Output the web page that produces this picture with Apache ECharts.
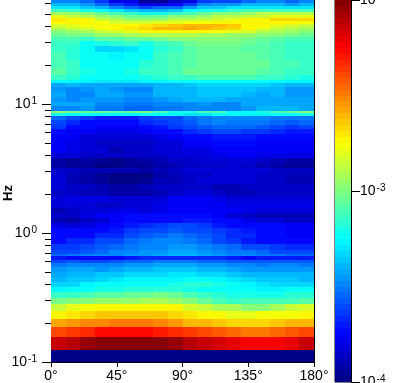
<!DOCTYPE html>
<html><head><meta charset="utf-8">
<style>html,body{margin:0;padding:0;background:#fff}#c{width:418px;height:383px}</style>
<script src="https://cdn.jsdelivr.net/npm/echarts@6/dist/echarts.min.js"></script>
</head><body><div id="c"></div>
<script>
// Row edges in Hz, from the top of the plot downward
const freqEdges = [64,60.7,57.5,54.5,51.7,49,46.4,44,41.7,39.5,37.5,35.5,33.1,30.8,28.2,25.3,21.9,19,16.8,15.3,14.5,13.5,12.4,11.3,10.4,9.65,8.83,8.51,8.07,7.52,6.87,6.4,5.85,5.26,4.64,4.17,3.81,3.49,3.19,2.92,2.67,2.4,2.15,1.94,1.74,1.56,1.43,1.31,1.2,1.09,1,0.915,0.822,0.738,0.688,0.663,0.618,0.585,0.545,0.498,0.456,0.417,0.381,0.349,0.313,0.281,0.249,0.216,0.187,0.156,0.124,0.1];
// Column edges in degrees
const angleEdges = [0,10,20,30,40,50,60,70,80,90,100,110,120,130,140,150,160,170,180];
// log10 of the spectral value: one row per frequency band, one entry per angle band
const logPower = [
[-3.5,-3.5,-3.55,-3.65,-3.8,-3.8,-3.95,-3.95,-3.85,-3.8,-3.65,-3.6,-3.6,-3.55,-3.5,-3.5,-3.55,-3.5],
[-3.4,-3.4,-3.45,-3.55,-3.65,-3.7,-3.8,-3.8,-3.75,-3.65,-3.5,-3.45,-3.45,-3.4,-3.4,-3.4,-3.45,-3.4],
[-3.3,-3.3,-3.35,-3.4,-3.5,-3.55,-3.6,-3.55,-3.55,-3.45,-3.35,-3.35,-3.3,-3.3,-3.3,-3.3,-3.3,-3.3],
[-3.1,-3.15,-3.2,-3.25,-3.3,-3.35,-3.4,-3.4,-3.35,-3.25,-3.2,-3.2,-3.15,-3.1,-3.1,-3.1,-3.1,-3.1],
[-2.95,-2.95,-3,-3.05,-3.1,-3.15,-3.2,-3.2,-3.15,-3.1,-3.05,-3,-3,-2.95,-2.9,-2.9,-2.9,-2.9],
[-2.8,-2.85,-2.9,-2.95,-3,-3.05,-3.05,-3.05,-3,-3,-2.95,-2.9,-2.9,-2.85,-2.85,-2.8,-2.8,-2.8],
[-2.7,-2.72,-2.75,-2.85,-2.9,-2.95,-2.95,-2.95,-2.9,-2.88,-2.85,-2.82,-2.8,-2.75,-2.72,-2.68,-2.68,-2.68],
[-2.75,-2.73,-2.73,-2.78,-2.82,-2.82,-2.82,-2.8,-2.8,-2.78,-2.77,-2.75,-2.73,-2.73,-2.72,-2.72,-2.75,-2.77],
[-2.82,-2.8,-2.78,-2.76,-2.72,-2.72,-2.7,-2.68,-2.63,-2.62,-2.6,-2.6,-2.65,-2.72,-2.75,-2.8,-2.82,-2.85],
[-2.88,-2.85,-2.82,-2.78,-2.74,-2.7,-2.66,-2.62,-2.6,-2.58,-2.6,-2.63,-2.68,-2.75,-2.8,-2.85,-2.88,-2.92],
[-2.97,-2.95,-2.92,-2.87,-2.84,-2.8,-2.75,-2.72,-2.72,-2.72,-2.74,-2.77,-2.8,-2.84,-2.88,-2.92,-2.95,-2.98],
[-3.04,-3.02,-3.02,-2.96,-2.96,-2.92,-2.9,-2.89,-2.89,-2.89,-2.91,-2.92,-2.94,-2.96,-2.99,-3,-3.02,-3.04],
[-3.1,-3.1,-3.13,-3.07,-3.08,-3.05,-3.05,-3.03,-3,-3,-2.98,-2.98,-3,-3.02,-3.05,-3.07,-3.1,-3.1],
[-3.13,-3.15,-3.22,-3.19,-3.17,-3.15,-3.2,-3.15,-3.1,-3.05,-3.03,-3.03,-3.03,-3.05,-3.07,-3.1,-3.13,-3.13],
[-3.15,-3.17,-3.23,-3.33,-3.33,-3.3,-3.25,-3.17,-3.13,-3.08,-3.04,-3.04,-3.04,-3.07,-3.09,-3.11,-3.13,-3.15],
[-3.1,-3.17,-3.25,-3.25,-3.27,-3.25,-3.23,-3.15,-3.12,-3.08,-3.04,-3.04,-3.04,-3.04,-3.07,-3.1,-3.13,-3.15],
[-3.1,-3.15,-3.23,-3.25,-3.25,-3.23,-3.17,-3.15,-3.1,-3.07,-3.04,-3.04,-3.04,-3.04,-3.05,-3.1,-3.12,-3.15],
[-3.07,-3.15,-3.2,-3.23,-3.23,-3.2,-3.15,-3.15,-3.1,-3.05,-3.04,-3.04,-3.04,-3.04,-3.07,-3.1,-3.13,-3.15],
[-3.15,-3.17,-3.22,-3.25,-3.25,-3.23,-3.2,-3.17,-3.15,-3.13,-3.1,-3.1,-3.1,-3.1,-3.13,-3.15,-3.17,-3.2],
[-3.25,-3.27,-3.28,-3.3,-3.3,-3.3,-3.28,-3.27,-3.25,-3.24,-3.22,-3.22,-3.22,-3.22,-3.24,-3.26,-3.27,-3.27],
[-3.42,-3.4,-3.42,-3.42,-3.42,-3.42,-3.42,-3.38,-3.38,-3.36,-3.34,-3.32,-3.32,-3.32,-3.34,-3.36,-3.38,-3.38],
[-3.45,-3.48,-3.45,-3.42,-3.45,-3.47,-3.48,-3.4,-3.4,-3.38,-3.36,-3.36,-3.35,-3.36,-3.38,-3.38,-3.44,-3.44],
[-3.42,-3.5,-3.47,-3.42,-3.42,-3.45,-3.45,-3.38,-3.38,-3.38,-3.36,-3.35,-3.35,-3.4,-3.42,-3.4,-3.44,-3.45],
[-3.45,-3.47,-3.45,-3.45,-3.45,-3.48,-3.48,-3.45,-3.42,-3.4,-3.38,-3.4,-3.42,-3.42,-3.42,-3.42,-3.42,-3.43],
[-3.43,-3.42,-3.42,-3.5,-3.5,-3.52,-3.52,-3.5,-3.5,-3.5,-3.45,-3.47,-3.47,-3.42,-3.42,-3.42,-3.42,-3.42],
[-3.5,-3.5,-3.45,-3.52,-3.52,-3.54,-3.54,-3.52,-3.52,-3.5,-3.48,-3.5,-3.5,-3.46,-3.4,-3.38,-3.38,-3.42],
[-3,-3.02,-3.05,-3.05,-3.07,-3.05,-3.03,-3.1,-3.2,-3.2,-3.1,-3.12,-3.22,-3.25,-3.2,-3.1,-3.05,-2.98],
[-3.2,-3.22,-3.25,-3.27,-3.27,-3.27,-3.25,-3.25,-3.28,-3.3,-3.3,-3.25,-3.25,-3.27,-3.27,-3.25,-3.23,-3.2],
[-3.55,-3.62,-3.65,-3.7,-3.7,-3.7,-3.65,-3.62,-3.6,-3.55,-3.52,-3.5,-3.5,-3.5,-3.5,-3.52,-3.52,-3.52],
[-3.62,-3.68,-3.72,-3.75,-3.75,-3.72,-3.68,-3.65,-3.6,-3.57,-3.52,-3.5,-3.52,-3.52,-3.52,-3.55,-3.58,-3.55],
[-3.65,-3.72,-3.75,-3.78,-3.78,-3.76,-3.72,-3.7,-3.65,-3.6,-3.58,-3.55,-3.55,-3.55,-3.57,-3.6,-3.63,-3.62],
[-3.72,-3.77,-3.78,-3.8,-3.8,-3.8,-3.78,-3.75,-3.72,-3.68,-3.65,-3.62,-3.62,-3.63,-3.65,-3.67,-3.7,-3.7],
[-3.76,-3.78,-3.82,-3.83,-3.83,-3.83,-3.82,-3.8,-3.78,-3.73,-3.72,-3.7,-3.7,-3.7,-3.72,-3.73,-3.75,-3.75],
[-3.77,-3.8,-3.83,-3.85,-3.85,-3.87,-3.85,-3.83,-3.83,-3.78,-3.76,-3.75,-3.75,-3.75,-3.76,-3.78,-3.77,-3.77],
[-3.78,-3.8,-3.82,-3.83,-3.88,-3.87,-3.85,-3.84,-3.82,-3.8,-3.8,-3.78,-3.76,-3.76,-3.77,-3.78,-3.78,-3.78],
[-3.82,-3.83,-3.85,-3.85,-3.87,-3.87,-3.86,-3.85,-3.84,-3.82,-3.82,-3.8,-3.78,-3.78,-3.8,-3.8,-3.8,-3.8],
[-3.92,-3.94,-3.93,-3.95,-3.97,-3.95,-3.93,-3.9,-3.87,-3.85,-3.84,-3.84,-3.83,-3.84,-3.87,-3.9,-3.92,-3.92],
[-3.93,-3.95,-3.95,-3.97,-3.98,-3.95,-3.95,-3.92,-3.88,-3.86,-3.85,-3.85,-3.84,-3.85,-3.88,-3.92,-3.95,-3.95],
[-3.85,-3.87,-3.9,-3.9,-3.9,-3.9,-3.92,-3.9,-3.85,-3.84,-3.83,-3.83,-3.82,-3.82,-3.84,-3.85,-3.87,-3.87],
[-3.82,-3.9,-3.92,-3.95,-3.97,-3.98,-3.97,-3.92,-3.88,-3.86,-3.85,-3.83,-3.82,-3.83,-3.85,-3.85,-3.9,-3.9],
[-3.84,-3.9,-3.92,-3.94,-3.97,-3.98,-3.94,-3.9,-3.88,-3.85,-3.84,-3.84,-3.84,-3.84,-3.85,-3.86,-3.88,-3.88],
[-3.84,-3.85,-3.87,-3.9,-3.92,-3.92,-3.9,-3.87,-3.86,-3.85,-3.86,-3.88,-3.88,-3.86,-3.85,-3.85,-3.85,-3.85],
[-3.85,-3.87,-3.88,-3.88,-3.93,-3.93,-3.93,-3.88,-3.85,-3.84,-3.84,-3.85,-3.88,-3.88,-3.87,-3.85,-3.85,-3.85],
[-3.82,-3.8,-3.8,-3.8,-3.82,-3.82,-3.83,-3.82,-3.78,-3.76,-3.78,-3.8,-3.82,-3.84,-3.83,-3.82,-3.82,-3.82],
[-3.82,-3.82,-3.84,-3.85,-3.85,-3.82,-3.82,-3.8,-3.78,-3.78,-3.78,-3.78,-3.8,-3.8,-3.8,-3.8,-3.8,-3.8],
[-3.88,-3.87,-3.84,-3.82,-3.8,-3.8,-3.82,-3.8,-3.78,-3.78,-3.76,-3.76,-3.76,-3.8,-3.82,-3.82,-3.82,-3.82],
[-3.86,-3.85,-3.8,-3.78,-3.76,-3.75,-3.75,-3.75,-3.75,-3.75,-3.74,-3.77,-3.82,-3.87,-3.88,-3.88,-3.9,-3.9],
[-3.9,-3.92,-3.86,-3.83,-3.78,-3.74,-3.72,-3.72,-3.72,-3.7,-3.7,-3.72,-3.75,-3.8,-3.82,-3.82,-3.85,-3.85],
[-3.8,-3.82,-3.8,-3.78,-3.74,-3.7,-3.68,-3.65,-3.62,-3.62,-3.65,-3.7,-3.72,-3.75,-3.75,-3.75,-3.78,-3.77],
[-3.75,-3.75,-3.75,-3.72,-3.7,-3.65,-3.62,-3.6,-3.58,-3.6,-3.62,-3.65,-3.67,-3.7,-3.72,-3.75,-3.77,-3.76],
[-3.72,-3.72,-3.72,-3.68,-3.66,-3.6,-3.58,-3.55,-3.52,-3.55,-3.58,-3.62,-3.66,-3.68,-3.72,-3.75,-3.76,-3.76],
[-3.75,-3.68,-3.68,-3.62,-3.6,-3.55,-3.52,-3.5,-3.5,-3.52,-3.55,-3.6,-3.65,-3.7,-3.72,-3.75,-3.75,-3.75],
[-3.65,-3.65,-3.6,-3.58,-3.55,-3.52,-3.5,-3.48,-3.46,-3.46,-3.5,-3.52,-3.55,-3.6,-3.62,-3.65,-3.68,-3.68],
[-3.6,-3.6,-3.58,-3.55,-3.5,-3.48,-3.46,-3.45,-3.42,-3.42,-3.45,-3.48,-3.52,-3.52,-3.56,-3.6,-3.62,-3.62],
[-3.55,-3.52,-3.5,-3.5,-3.48,-3.46,-3.45,-3.42,-3.4,-3.4,-3.42,-3.45,-3.48,-3.48,-3.52,-3.52,-3.55,-3.55],
[-3.7,-3.72,-3.75,-3.75,-3.72,-3.7,-3.68,-3.67,-3.66,-3.66,-3.67,-3.68,-3.7,-3.72,-3.7,-3.7,-3.7,-3.7],
[-3.6,-3.58,-3.6,-3.6,-3.58,-3.56,-3.54,-3.52,-3.52,-3.52,-3.54,-3.56,-3.58,-3.58,-3.58,-3.57,-3.57,-3.57],
[-3.52,-3.48,-3.48,-3.5,-3.5,-3.46,-3.44,-3.43,-3.42,-3.42,-3.44,-3.46,-3.5,-3.5,-3.52,-3.5,-3.5,-3.52],
[-3.46,-3.43,-3.42,-3.44,-3.42,-3.4,-3.38,-3.36,-3.35,-3.35,-3.38,-3.4,-3.42,-3.45,-3.46,-3.46,-3.45,-3.45],
[-3.42,-3.4,-3.4,-3.37,-3.36,-3.34,-3.32,-3.32,-3.3,-3.3,-3.32,-3.34,-3.36,-3.38,-3.4,-3.4,-3.4,-3.4],
[-3.4,-3.36,-3.35,-3.33,-3.3,-3.27,-3.28,-3.28,-3.26,-3.25,-3.24,-3.26,-3.3,-3.32,-3.35,-3.36,-3.37,-3.38],
[-3.33,-3.32,-3.27,-3.25,-3.24,-3.22,-3.22,-3.22,-3.2,-3.18,-3.18,-3.2,-3.24,-3.28,-3.3,-3.32,-3.33,-3.32],
[-3.28,-3.25,-3.22,-3.2,-3.2,-3.18,-3.17,-3.17,-3.16,-3.2,-3.22,-3.24,-3.25,-3.25,-3.27,-3.27,-3.25,-3.22],
[-3.15,-3.13,-3.1,-3.07,-3.07,-3.05,-3.05,-3.03,-3.05,-3.1,-3.14,-3.18,-3.2,-3.2,-3.2,-3.2,-3.18,-3.17],
[-3.02,-3,-2.97,-2.96,-2.95,-2.95,-2.93,-2.92,-2.95,-2.98,-3.05,-3.1,-3.13,-3.12,-3.12,-3.12,-3.1,-3.08],
[-2.85,-2.8,-2.77,-2.75,-2.72,-2.72,-2.72,-2.75,-2.75,-2.82,-2.86,-2.92,-2.92,-2.97,-2.97,-2.92,-2.87,-2.82],
[-2.75,-2.7,-2.67,-2.65,-2.63,-2.63,-2.63,-2.65,-2.67,-2.7,-2.75,-2.75,-2.8,-2.8,-2.78,-2.78,-2.76,-2.75],
[-2.58,-2.56,-2.52,-2.52,-2.5,-2.5,-2.5,-2.52,-2.55,-2.6,-2.62,-2.65,-2.67,-2.67,-2.66,-2.63,-2.62,-2.6],
[-2.4,-2.37,-2.33,-2.27,-2.27,-2.27,-2.27,-2.3,-2.32,-2.35,-2.4,-2.42,-2.46,-2.48,-2.48,-2.45,-2.42,-2.38],
[-2.13,-2.1,-2.06,-2.03,-2.02,-2.02,-2.02,-2.02,-2.05,-2.1,-2.13,-2.16,-2.2,-2.25,-2.24,-2.25,-2.2,-2.13],
[-4,-4,-4,-4,-4,-4,-4,-4,-4,-4,-4,-4,-4,-4,-4,-4,-4,-4]
];
const angleTicks = [0,45,90,135,180];
const freqMajor = [0.1,1,10];
const freqMinor = [0.2,0.3,0.4,0.5,0.6,0.7,0.8,0.9,2,3,4,5,6,7,8,9,20,30,40,50,60];
const powerMajor = [0.0001,0.001,0.01];
const powerMinor = [0.0002,0.0003,0.0004,0.0005,0.0006,0.0007,0.0008,0.0009,0.002,0.003,0.004,0.005,0.006,0.007,0.008,0.009];
const logMin = -4, logMax = -2, levels = 64;

function jet(t){
  const f = x => Math.round(255*Math.max(0,Math.min(1,1.5-Math.abs(4*t-x))));
  return 'rgb('+f(3)+','+f(2)+','+f(1)+')';
}
function colorFor(lg){
  const k = Math.max(0,Math.min(levels-1,Math.floor((lg-logMin)/(logMax-logMin)*levels)));
  return jet((k+0.5)/levels);
}
const cells = [];
logPower.forEach((row,r)=>row.forEach((lg,c)=>{
  cells.push([angleEdges[c],angleEdges[c+1],freqEdges[r+1],freqEdges[r],lg]);
}));
const barCells = [];
for(let k=0;k<levels;k++){
  const a=logMin+(logMax-logMin)*k/levels, b=logMin+(logMax-logMin)*(k+1)/levels;
  barCells.push([0,1,Math.pow(10,a),Math.pow(10,b),(a+b)/2]);
}
function renderCell(p,api){
  const a=api.coord([api.value(0),api.value(2)]), b=api.coord([api.value(1),api.value(3)]);
  const x=Math.round(a[0]),y=Math.round(b[1]);
  return {type:'rect',shape:{x:x,y:y,width:Math.round(b[0])-x,height:Math.round(a[1])-y},
    style:{fill:colorFor(api.value(4))}};
}
function powLabel(v){
  const e=Math.round(Math.log10(v));
  return '{b|10}{s|'+e+'}';
}
const font='"Liberation Sans"';
const rich={b:{fontFamily:font,fontSize:14,color:'#000',lineHeight:16},
            s:{fontFamily:font,fontSize:10,color:'#000',padding:[0,0,6,1],lineHeight:16}};
const black={lineStyle:{color:'#000',width:1}};
const chart=echarts.init(document.getElementById('c'),null,{renderer:'canvas'});
chart.setOption({
  animation:false,backgroundColor:'#fff',
  grid:[{left:51,top:0,width:263,height:362,show:false,outerBoundsMode:'none',containLabel:false},
        {left:335,top:0,width:16,height:382,show:true,borderColor:'#000',borderWidth:1,backgroundColor:'transparent',outerBoundsMode:'none',containLabel:false}],
  xAxis:[
    {gridIndex:0,type:'value',min:0,max:180,interval:45,splitLine:{show:false},
     axisLine:{show:true,...black},axisTick:{show:true,length:5,...black},
     axisLabel:{fontFamily:font,fontSize:14,color:'#000',margin:7,formatter:v=>v+'°',customValues:angleTicks,hideOverlap:false,showMinLabel:true,showMaxLabel:true}},
    {gridIndex:1,type:'value',min:0,max:1,show:false}
  ],
  yAxis:[
    {gridIndex:0,type:'log',logBase:10,min:0.1,max:64,position:'left',splitLine:{show:false},minorTick:{show:false},
     axisLine:{show:true,onZero:false,...black},
     axisTick:{show:true,length:9,customValues:freqMajor,...black},
     axisLabel:{customValues:freqMajor,margin:14,formatter:powLabel,rich:rich,hideOverlap:false}},
    {gridIndex:0,type:'log',logBase:10,min:0.1,max:64,position:'left',splitLine:{show:false},
     axisLine:{show:false},axisTick:{show:true,length:6,customValues:freqMinor,...black},axisLabel:{show:false}},
    {gridIndex:0,type:'log',logBase:10,min:0.1,max:64,position:'right',splitLine:{show:false},
     axisLine:{show:true,onZero:false,...black},axisTick:{show:false},axisLabel:{show:false}},
    {gridIndex:1,type:'log',logBase:10,min:0.0001,max:0.01,position:'right',splitLine:{show:false},
     axisLine:{show:true,onZero:false,...black},axisTick:{show:true,length:9,customValues:powerMajor,...black},
     axisLabel:{customValues:powerMajor,margin:9,formatter:powLabel,rich:rich,hideOverlap:false}},
    {gridIndex:1,type:'log',logBase:10,min:0.0001,max:0.01,position:'right',splitLine:{show:false},
     axisLine:{show:false},axisTick:{show:true,length:5,customValues:powerMinor,...black},axisLabel:{show:false}}
  ],
  graphic:[{type:'text',left:2,top:185,rotation:Math.PI/2,
    style:{text:'Hz',fontFamily:font,fontSize:13,fontWeight:'bold',fill:'#000'}}],
  series:[
    {type:'custom',xAxisIndex:0,yAxisIndex:0,coordinateSystem:'cartesian2d',clip:true,z:1,
     encode:{x:[0,1],y:[2,3]},data:cells,renderItem:renderCell},
    {type:'custom',xAxisIndex:1,yAxisIndex:3,coordinateSystem:'cartesian2d',clip:true,z:1,
     encode:{x:[0,1],y:[2,3]},data:barCells,renderItem:renderCell}
  ]
});
</script></body></html>
